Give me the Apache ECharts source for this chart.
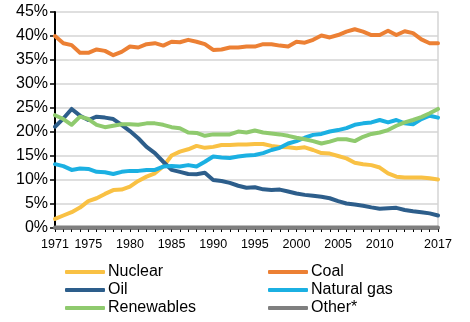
<!DOCTYPE html>
<html>
<head>
<meta charset="utf-8">
<script src="https://cdn.jsdelivr.net/npm/echarts@6/dist/echarts.min.js"></script>
<style>
  html, body { margin: 0; padding: 0; background: #fff; }
  #chart { width: 470px; height: 322px; }
</style>
</head>
<body>
<div id="chart"></div>
<script>
// Share of electricity generation by source, 1971-2017 (%)
const years = [];
for (let y = 1971; y <= 2017; y++) years.push(String(y));

const labeledYears = ['1971', '1975', '1980', '1985', '1990', '1995', '2000', '2005', '2010', '2017'];
const yTicks = [0, 5, 10, 15, 20, 25, 30, 35, 40, 45];

const nuclear = [1.9, 2.6, 3.3, 4.25, 5.6, 6.2, 7.1, 7.9, 8.0, 8.6,
  9.8, 10.7, 11.4, 12.8, 15.1, 15.9, 16.4, 17.1, 16.7, 16.9,
  17.3, 17.3, 17.4, 17.4, 17.5, 17.5, 17.1, 16.9, 16.8, 16.6,
  16.8, 16.25, 15.6, 15.5, 15.0, 14.5, 13.6, 13.3, 13.1, 12.6,
  11.4, 10.7, 10.5, 10.5, 10.5, 10.35, 10.1];

const coal = [40.0, 38.5, 38.1, 36.5, 36.5, 37.2, 36.9, 36.0, 36.7, 37.8,
  37.6, 38.3, 38.5, 38.0, 38.8, 38.7, 39.2, 38.8, 38.3, 37.1,
  37.2, 37.6, 37.6, 37.8, 37.8, 38.3, 38.3, 38.0, 37.8, 38.8,
  38.6, 39.2, 40.1, 39.7, 40.2, 40.9, 41.4, 40.9, 40.2, 40.2,
  41.1, 40.2, 41.0, 40.6, 39.3, 38.5, 38.5];

const oil = [21.1, 22.8, 24.8, 23.4, 22.5, 23.2, 23.0, 22.7, 21.5, 20.2,
  18.7, 16.9, 15.6, 13.8, 12.1, 11.7, 11.25, 11.2, 11.5, 10.0,
  9.8, 9.4, 8.8, 8.4, 8.5, 8.05, 7.9, 8.0, 7.6, 7.2,
  6.9, 6.7, 6.5, 6.2, 5.6, 5.1, 4.9, 4.65, 4.3, 4.0,
  4.1, 4.2, 3.75, 3.5, 3.3, 3.05, 2.6];

const naturalGas = [13.3, 12.9, 12.1, 12.4, 12.3, 11.7, 11.6, 11.25, 11.7, 11.9,
  11.9, 12.1, 12.1, 12.8, 12.9, 12.8, 13.1, 12.8, 13.8, 14.9,
  14.7, 14.6, 14.9, 15.1, 15.2, 15.6, 16.25, 16.7, 17.6, 18.1,
  18.8, 19.4, 19.6, 20.1, 20.4, 20.8, 21.5, 21.8, 22.0, 22.5,
  22.0, 22.5, 21.8, 21.6, 22.7, 23.4, 23.0];

const renewables = [23.5, 22.7, 21.5, 23.2, 22.7, 21.5, 21.0, 21.3, 21.6, 21.6,
  21.5, 21.8, 21.8, 21.5, 21.0, 20.8, 19.9, 19.8, 19.2, 19.5,
  19.5, 19.5, 20.1, 19.9, 20.3, 19.9, 19.7, 19.5, 19.2, 18.8,
  18.5, 18.1, 17.6, 18.0, 18.5, 18.5, 18.1, 19.0, 19.6, 19.9,
  20.4, 21.3, 22.0, 22.5, 23.1, 23.9, 24.8];

const other = [0.1, 0.1, 0.1, 0.1, 0.1, 0.1, 0.1, 0.1, 0.1, 0.1,
  0.1, 0.1, 0.1, 0.1, 0.1, 0.1, 0.1, 0.1, 0.1, 0.1,
  0.1, 0.1, 0.1, 0.1, 0.1, 0.1, 0.1, 0.1, 0.1, 0.1,
  0.1, 0.1, 0.1, 0.1, 0.1, 0.1, 0.1, 0.1, 0.1, 0.1,
  0.1, 0.1, 0.1, 0.1, 0.1, 0.1, 0.1];

const colors = {
  'Nuclear': '#F9C144',
  'Coal': '#EC8034',
  'Oil': '#2D5E8B',
  'Natural gas': '#1BB0E2',
  'Renewables': '#8FCA6E',
  'Other*': '#7F7F7F'
};

const font = '"Liberation Sans", Arial, sans-serif';

function line(name, data) {
  return {
    name: name,
    type: 'line',
    data: data,
    symbol: 'none',
    smooth: false,
    z: name === 'Other*' ? 1 : 3,
    lineStyle: { color: colors[name], width: 4, cap: 'round', join: 'round' },
    itemStyle: { color: colors[name] }
  };
}

const legendBase = {
  orient: 'vertical',
  top: 263,
  height: 58,
  itemWidth: 40,
  itemHeight: 4,
  itemGap: 0,
  icon: 'roundRect',
  selectedMode: false,
  padding: 0,
  textStyle: { fontFamily: font, fontSize: 16, lineHeight: 18, color: '#000', padding: [0, 0, 0, -2] }
};

const chart = echarts.init(document.getElementById('chart'), null, { renderer: 'canvas' });
chart.setOption({
  animation: false,
  backgroundColor: '#fff',
  grid: { left: 55, right: 32, top: 12, bottom: 94 },
  legend: [
    Object.assign({}, legendBase, { left: 65, data: ['Nuclear', 'Oil', 'Renewables'] }),
    Object.assign({}, legendBase, { left: 268, data: ['Coal', 'Natural gas', 'Other*'] })
  ],
  xAxis: {
    type: 'category',
    data: years,
    boundaryGap: false,
    axisLine: { show: true, lineStyle: { color: '#808080', width: 3 } },
    axisTick: { show: true, interval: 0, length: 4, inside: false, lineStyle: { color: '#000', width: 1 } },
    axisLabel: {
      interval: (idx, val) => labeledYears.indexOf(val) >= 0,
      fontFamily: font,
      fontSize: 12.5,
      color: '#000',
      margin: 10
    },
    splitLine: { show: false }
  },
  yAxis: [
    {
      type: 'value',
      min: yTicks[0],
      max: yTicks[yTicks.length - 1],
      interval: 5,
      axisLine: { show: true, lineStyle: { color: '#000', width: 2 } },
      axisTick: { show: true, length: 5, lineStyle: { color: '#000', width: 1.5 } },
      axisLabel: {
        formatter: v => v + '%',
        fontFamily: font,
        fontSize: 16,
        color: '#000',
        margin: 7
      },
      splitLine: { show: true, lineStyle: { color: '#D4D4D4', width: 1.5 } }
    },
    {
      type: 'value',
      position: 'right',
      min: yTicks[0],
      max: yTicks[yTicks.length - 1],
      interval: 5,
      axisLine: { show: true, lineStyle: { color: '#D4D4D4', width: 1.5 } },
      axisTick: { show: false },
      axisLabel: { show: false },
      splitLine: { show: false }
    }
  ],
  series: [
    line('Nuclear', nuclear),
    line('Coal', coal),
    line('Oil', oil),
    line('Natural gas', naturalGas),
    line('Renewables', renewables),
    line('Other*', other)
  ]
});
</script>
</body>
</html>
